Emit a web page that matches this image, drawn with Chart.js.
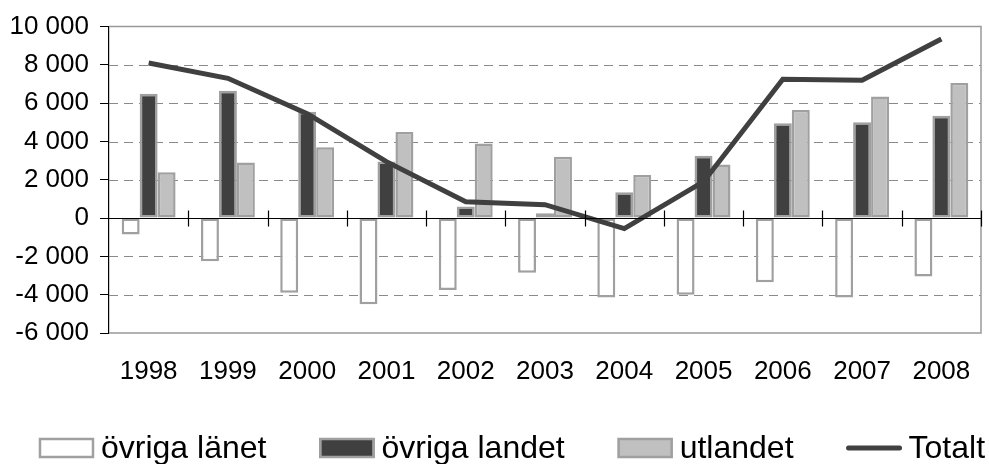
<!DOCTYPE html>
<html>
<head>
<meta charset="utf-8">
<script src="https://cdn.jsdelivr.net/npm/chart.js@4/dist/chart.umd.min.js"></script>
<style>
html,body{margin:0;padding:0;background:#fff;}
#wrap{width:989px;height:464px;}
</style>
</head>
<body>
<div id="wrap"><canvas id="c" width="989" height="464"></canvas></div>
<script>
const years = ['1998','1999','2000','2001','2002','2003','2004','2005','2006','2007','2008'];
const ovrigaLanet  = [-850, -2250, -3900, -4500, -3750, -2850, -4150, -4000, -3350, -4150, -3050];
const ovrigaLandet = [6500, 6650, 5550, 2950, 600, 250, 1350, 3250, 4950, 5000, 5350];
const utlandet     = [2400, 2900, 3700, 4500, 3900, 3200, 2250, 2800, 5650, 6350, 7050];
const totalt       = [8100, 7300, 5450, 2950, 850, 700, -550, 1900, 7250, 7200, 9350];
const yTicks = [-6000, -4000, -2000, 0, 2000, 4000, 6000, 8000, 10000];

const FONT = "'Liberation Sans', Arial, sans-serif";

function fmt(v){
  const s = String(Math.abs(v)).replace(/\B(?=(\d{3})+(?!\d))/g, ' ');
  return (v < 0 ? '-' : '') + s;
}

const framePlugin = {
  id: 'frame',
  beforeDatasetsDraw(chart){
    const {ctx, chartArea:a, scales:{x, y}} = chart;
    ctx.save();
    ctx.strokeStyle = '#8a8a8a';
    ctx.lineWidth = 1;
    ctx.setLineDash([9, 6]);
    yTicks.forEach(v => {
      if (v === 0 || v === yTicks[0] || v === yTicks[yTicks.length-1]) return;
      const py = Math.round(y.getPixelForValue(v)) + 0.5;
      ctx.beginPath(); ctx.moveTo(a.left, py); ctx.lineTo(a.right, py); ctx.stroke();
    });
    ctx.setLineDash([]);
    ctx.strokeStyle = '#999999';
    ctx.lineWidth = 1.5;
    ctx.beginPath();
    ctx.moveTo(a.left, a.top); ctx.lineTo(a.right, a.top); ctx.lineTo(a.right, a.bottom); ctx.lineTo(a.left, a.bottom);
    ctx.stroke();
    ctx.restore();
  },
  afterDatasetsDraw(chart){
    const {ctx, chartArea:a, scales:{x, y}} = chart;
    ctx.save();
    const zy = Math.round(y.getPixelForValue(0)) + 0.5;
    ctx.strokeStyle = '#000';
    ctx.lineWidth = 1.2;
    ctx.beginPath(); ctx.moveTo(a.left, zy); ctx.lineTo(a.right, zy); ctx.stroke();
    const n = years.length;
    for (let i = 0; i < n; i++) {
      let bx;
      if (i < n - 1) bx = (x.getPixelForValue(i) + x.getPixelForValue(i+1)) / 2;
      else bx = a.right;
      bx = Math.round(bx) + 0.5;
      ctx.beginPath(); ctx.moveTo(bx, zy - 8); ctx.lineTo(bx, zy + 8); ctx.stroke();
    }
    ctx.restore();
  }
};

// legend drawn from the chart's own datasets
const legendPlugin = {
  id: 'bottomLegend',
  afterDraw(chart){
    const {ctx} = chart;
    const boxW = 55, boxH = 20, gapText = 7, gapItem = 53, fontSize = 32;
    const cy = 448, centerX = 512;
    ctx.save();
    ctx.font = fontSize + 'px ' + FONT;
    ctx.textBaseline = 'middle';
    const items = chart.data.datasets.map(ds => ({ ds, w: boxW + gapText + ctx.measureText(ds.label).width }));
    const total = items.reduce((s, it) => s + it.w, 0) + gapItem * (items.length - 1);
    let x = Math.min(centerX - total / 2, chart.width - total - 2);
    items.forEach(({ds, w}) => {
      if (ds.type === 'line') {
        ctx.strokeStyle = ds.borderColor;
        ctx.lineWidth = ds.borderWidth;
        ctx.lineCap = 'round';
        ctx.beginPath(); ctx.moveTo(x + 2, cy); ctx.lineTo(x + boxW - 2, cy); ctx.stroke();
      } else {
        ctx.fillStyle = ds.backgroundColor;
        ctx.fillRect(x, cy - boxH/2, boxW, boxH);
        ctx.strokeStyle = ds.borderColor;
        ctx.lineWidth = ds.borderWidth;
        ctx.strokeRect(x + 1, cy - boxH/2 + 1, boxW - 2, boxH - 2);
      }
      ctx.fillStyle = '#000';
      ctx.textAlign = 'left';
      ctx.fillText(ds.label, x + boxW + gapText, cy + 1);
      x += w + gapItem;
    });
    ctx.restore();
  }
};

const barBorder = '#a0a0a0';

new Chart(document.getElementById('c'), {
  data: {
    labels: years,
    datasets: [
      { type:'bar', label:'övriga länet', data: ovrigaLanet, backgroundColor:'#ffffff', borderColor:barBorder, borderWidth:2.5, borderSkipped:false, order:1 },
      { type:'bar', label:'övriga landet', data: ovrigaLandet, backgroundColor:'#404040', borderColor:barBorder, borderWidth:2.5, borderSkipped:false, order:1 },
      { type:'bar', label:'utlandet', data: utlandet, backgroundColor:'#c0c0c0', borderColor:barBorder, borderWidth:2.5, borderSkipped:false, order:1 },
      { type:'line', label:'Totalt', data: totalt, borderColor:'#404040', borderWidth:5, pointRadius:0, pointHoverRadius:0, tension:0, fill:false, order:0 }
    ]
  },
  options: {
    responsive:false,
    animation:false,
    events:[],
    layout:{ padding:{ left:0, right:8, top:25, bottom:81 } },
    datasets:{ bar:{ categoryPercentage:0.68, barPercentage:1.0 } },
    scales:{
      x:{
        offset:true,
        grid:{ display:false },
        border:{ display:false },
        ticks:{ font:{ family:FONT, size:26 }, color:'#000', padding:15, maxRotation:0, autoSkip:false },
        afterFit(s){ s.height = 50; }
      },
      y:{
        min:-6000, max:10000,
        afterBuildTicks(s){ s.ticks = yTicks.map(v => ({value:v})); },
        grid:{ drawOnChartArea:false, drawTicks:true, tickLength:9, color:'#000', lineWidth:1 },
        border:{ display:true, color:'#000', width:1.2 },
        ticks:{ font:{ family:FONT, size:26 }, color:'#000', padding:11, callback:(v)=>fmt(v) },
        afterFit(s){ s.width = 109; }
      }
    },
    plugins:{
      legend:{ display:false },
      tooltip:{ enabled:false }
    }
  },
  plugins:[framePlugin, legendPlugin]
});
</script>
</body>
</html>
